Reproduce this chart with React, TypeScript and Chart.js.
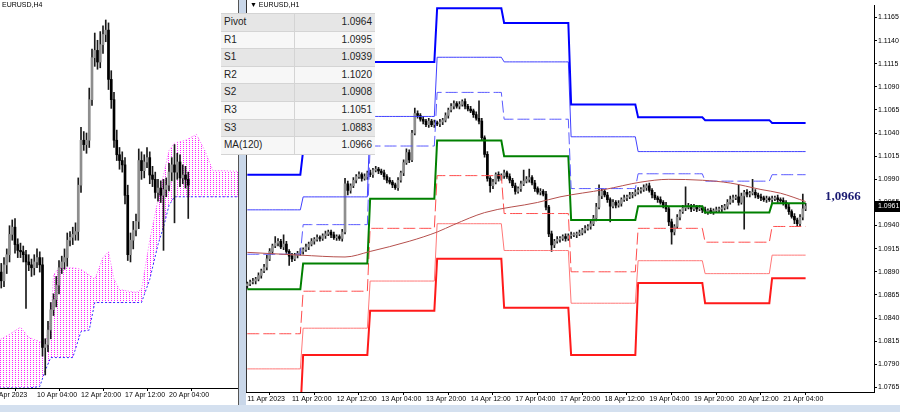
import React, { useEffect, useRef } from "react";
import { Chart, registerables } from "chart.js";
Chart.register(...registerables);

// ---------- H1 (right panel) ----------
const h1TickIdx = [0, 16, 32, 48, 64, 80, 96, 112, 128, 144, 160, 176, 192];
const h1TickLabels = ["11 Apr 2023", "11 Apr 20:00", "12 Apr 12:00", "13 Apr 04:00", "13 Apr 20:00", "14 Apr 12:00", "17 Apr 04:00", "17 Apr 20:00", "18 Apr 12:00", "19 Apr 04:00", "19 Apr 20:00", "20 Apr 12:00", "21 Apr 04:00"];
const priceTicks = [1.1165, 1.114, 1.1115, 1.109, 1.1065, 1.104, 1.1015, 1.099, 1.0965, 1.094, 1.0915, 1.089, 1.0865, 1.084, 1.0815, 1.079, 1.0765];

// prices in 1/10000 units
const h1FirstOpen = 10875;
const h1Close = [
  10877, 10879, 10880, 10882, 10886, 10891, 10895, 10904, 10912, 10918,
  10921, 10923, 10917, 10920, 10912, 10907, 10904, 10908, 10910, 10912,
  10914, 10917, 10920, 10923, 10925, 10927, 10926, 10929, 10931, 10933,
  10930, 10927, 10928, 10926, 10933, 10985, 10978, 10983, 10989, 10993,
  10995, 10991, 10993, 10997, 10995, 11000, 11001, 10999, 10997, 10993,
  10989, 10987, 10984, 10981, 10989, 10997, 11008, 11019, 11011, 11040,
  11061, 11059, 11055, 11053, 11049, 11053, 11049, 11051, 11050, 11052,
  11054, 11059, 11065, 11069, 11072, 11069, 11071, 11074, 11069, 11066,
  11064, 11060, 11056, 11053, 11035, 11017, 10991, 10983, 10987, 10995,
  10991, 10994, 10997, 10993, 10989, 10983, 10977, 10980, 10985, 10988,
  10990, 10992, 10986, 10980, 10976, 10977, 10974, 10960, 10931, 10919,
  10923, 10925, 10926, 10928, 10926, 10929, 10930, 10930, 10931, 10932,
  10935, 10937, 10939, 10942, 10948, 10960, 10972, 10977, 10973, 10968,
  10961, 10965, 10962, 10964, 10968, 10970, 10971, 10973, 10974, 10976,
  10978, 10979, 10981, 10983, 10978, 10973, 10970, 10968, 10965, 10962,
  10958, 10944, 10933, 10939, 10949, 10955, 10959, 10960, 10961, 10958,
  10960, 10958, 10959, 10957, 10955, 10956, 10955, 10956, 10957, 10958,
  10959, 10961, 10965, 10968, 10970, 10971, 10965, 10972, 10976, 10974,
  10975, 10976, 10973, 10971, 10970, 10968, 10969, 10968, 10969, 10970,
  10968, 10967, 10965, 10960, 10955, 10950, 10946, 10942, 10949, 10958, 10961,
];
const h1UpWick = [
  2, 2, 3, 2, 3, 2, 3, 4, 3, 2,
  7, 3, 2, 10, 3, 2, 3, 2, 2, 3,
  2, 3, 2, 3, 2, 3, 2, 2, 3, 2,
  2, 3, 2, 2, 3, 6, 3, 2, 3, 2,
  3, 2, 3, 2, 3, 2, 3, 2, 2, 3,
  2, 3, 2, 2, 3, 2, 3, 4, 3, 3,
  6, 3, 2, 3, 2, 3, 2, 3, 2, 3,
  2, 3, 2, 3, 3, 2, 3, 2, 3, 2,
  3, 2, 3, 19, 3, 2, 3, 2, 3, 2,
  3, 2, 3, 2, 3, 2, 3, 2, 3, 12,
  3, 9, 2, 3, 2, 3, 2, 3, 2, 3,
  2, 3, 2, 2, 3, 2, 3, 2, 2, 3,
  2, 3, 2, 3, 3, 4, 12, 3, 2, 3,
  2, 3, 2, 3, 2, 3, 2, 3, 2, 3,
  3, 2, 3, 2, 3, 2, 3, 2, 3, 2,
  3, 2, 3, 2, 3, 2, 3, 22, 3, 2,
  3, 2, 3, 2, 3, 2, 3, 2, 3, 2,
  3, 2, 3, 4, 3, 2, 13, 3, 2, 3,
  2, 14, 3, 2, 3, 2, 3, 2, 3, 2,
  3, 2, 3, 2, 3, 2, 3, 2, 3, 16, 3,
];
const h1DnWick = [
  3, 2, 2, 3, 2, 3, 2, 3, 2, 3,
  2, 3, 2, 3, 2, 10, 3, 2, 3, 2,
  3, 2, 3, 2, 3, 2, 3, 2, 3, 2,
  3, 2, 3, 2, 3, 2, 5, 3, 2, 3,
  2, 3, 2, 3, 2, 3, 2, 3, 2, 3,
  3, 2, 3, 2, 3, 2, 3, 2, 3, 2,
  2, 3, 2, 3, 2, 3, 2, 3, 2, 3,
  3, 2, 3, 2, 3, 2, 3, 2, 3, 2,
  2, 3, 2, 3, 2, 3, 3, 7, 3, 2,
  3, 2, 3, 2, 3, 2, 3, 2, 3, 2,
  2, 3, 2, 3, 2, 3, 2, 3, 3, 7,
  3, 2, 3, 2, 3, 2, 3, 2, 3, 2,
  2, 3, 2, 3, 2, 3, 2, 3, 2, 3,
  17, 2, 3, 2, 3, 2, 3, 2, 3, 2,
  2, 3, 2, 3, 2, 3, 2, 3, 2, 3,
  3, 4, 13, 3, 2, 3, 2, 3, 2, 3,
  2, 3, 2, 3, 2, 3, 2, 3, 2, 3,
  3, 2, 3, 2, 3, 2, 3, 2, 36, 3,
  3, 2, 3, 2, 3, 2, 3, 2, 3, 2,
  3, 2, 3, 2, 3, 2, 4, 3, 2, 3, 2,
];

// daily pivot levels (11,12,13,14,17,18,19,20,21 Apr)
const dayStartBar = [0, 20, 44, 68, 92, 116, 140, 164, 188];
const pivotP = [10871, 10899, 10969, 11032, 11015, 10946, 10961, 10954, 10964];
const pivotR1 = [10909, 10941, 11026, 11084, 11055, 10980, 10996, 10988, 10995];
const pivotR2 = [10957, 10971, 11058, 11122, 11117, 11036, 11020, 11020, 11020];
const pivotR3 = [10995, 11021, 11117, 11175, 11159, 11071, 11057, 11054, 11051];
const pivotS1 = [10823, 10869, 10937, 10994, 10953, 10890, 10937, 10922, 10939];
const pivotS2 = [10785, 10829, 10880, 10942, 10913, 10856, 10902, 10888, 10908];
const pivotS3 = [10737, 10800, 10848, 10904, 10851, 10800, 10878, 10856, 10883];

const maIdx = [0, 19, 35, 44, 58, 68, 74, 85, 104, 112, 128, 141, 151, 163, 173, 184, 191, 200];
const maVal = [10911, 10908, 10906, 10912, 10923, 10933, 10941, 10954, 10965, 10971, 10979, 10987, 10990, 10989, 10986, 10979, 10975, 10966];

const tableNames = ["Pivot", "R1", "S1", "R2", "S2", "R3", "S3", "MA(120)"];
const tableValues = ["1.0964", "1.0995", "1.0939", "1.1020", "1.0908", "1.1051", "1.0883", "1.0966"];
const maNote = "1,0966";

// ---------- H4 (left panel) ----------
const h4TickIdx = [0, 16, 32, 48, 64];
const h4TickLabels = ["5 Apr 2023", "10 Apr 04:00", "12 Apr 20:00", "17 Apr 12:00", "20 Apr 04:00"];
const h4FirstOpen = 10895;
const h4Close = [
  10900, 10903, 10902, 10896, 10907, 10914, 10928, 10933, 10921, 10917,
  10916, 10914, 10909, 10907, 10905, 10909, 10912, 10907, 10850, 10852,
  10862, 10876, 10883, 10893, 10905, 10909, 10912, 10924, 10926, 10928,
  10930, 10962, 10993, 10990, 10993, 11021, 11050, 11055, 11047, 11059,
  11066, 11069, 11035, 11021, 10993, 10983, 10979, 10976, 10955, 10914,
  10924, 10931, 10937, 10979, 10972, 10978, 10981, 10969, 10966, 10957,
  10960, 10955, 10959, 10962, 10971, 10976, 10971, 10978, 10967, 10969,
  10966, 10962,
];
const h4UpWick = [
  4, 5, 3, 6, 5, 4, 6, 5, 6, 4,
  5, 4, 3, 5, 4, 5, 6, 4, 5, 4,
  6, 5, 4, 6, 5, 4, 6, 5, 4, 5,
  6, 5, 9, 6, 5, 8, 6, 12, 7, 9,
  6, 7, 5, 6, 5, 7, 5, 6, 5, 7,
  5, 6, 5, 8, 6, 5, 7, 4, 6, 5,
  6, 5, 7, 5, 6, 5, 14, 6, 5, 7,
  6, 5,
];
const h4DnWick = [
  5, 4, 6, 5, 4, 6, 5, 4, 6, 5,
  4, 5, 32, 4, 6, 5, 4, 5, 6, 19,
  5, 6, 4, 5, 6, 4, 5, 6, 4, 5,
  4, 6, 5, 4, 6, 5, 4, 6, 5, 4,
  6, 5, 7, 6, 5, 4, 6, 5, 6, 4,
  5, 6, 4, 5, 6, 5, 4, 6, 5, 4,
  6, 5, 38, 5, 4, 6, 35, 5, 6, 4,
  6, 23,
];
const cloudIdx = [-8, 2, 6, 10, 13, 17, 19, 21, 22, 24, 29, 32, 35, 37, 40, 42, 44, 46, 52, 54, 57, 60, 62, 64, 66, 70, 74, 77, 80, 84, 97];
const cloudTop = [10855, 10855, 10859, 10864, 10857, 10854, 10852, 10869, 10900, 10905, 10905, 10904, 10900, 10897, 10912, 10916, 10897, 10890, 10888, 10890, 10924, 10952, 10969, 10986, 10991, 10993, 10997, 10986, 10972, 10972, 10971];
const cloudBot = [10822, 10822, 10822, 10822, 10822, 10823, 10834, 10843, 10843, 10843, 10843, 10861, 10862, 10881, 10881, 10881, 10881, 10881, 10881, 10881, 10897, 10921, 10933, 10948, 10954, 10954, 10954, 10954, 10954, 10954, 10954];

const FONT = "'Liberation Sans', Arial, sans-serif";

function candleSets(firstOpen: number, closes: number[], up: number[], dn: number[]) {
  const opens = closes.map((c, i) => (i === 0 ? firstOpen : closes[i - 1]));
  const body = closes.map((c, i) => ({ x: i, y: [opens[i] / 1e4, c / 1e4] }));
  const wick = closes.map((c, i) => ({
    x: i,
    y: [(Math.min(opens[i], c) - dn[i]) / 1e4, (Math.max(opens[i], c) + up[i]) / 1e4],
  }));
  const colors = closes.map((c, i) => (c >= opens[i] ? "#8e8e8e" : "#000000"));
  return [
    { type: "bar", data: wick, backgroundColor: "#1a1a1a", barThickness: 1, grouped: false, order: 20 },
    { type: "bar", data: body, backgroundColor: colors, barThickness: 2, grouped: false, minBarLength: 1, order: 19 },
  ];
}

function dayOf(i: number) {
  let d = 0;
  for (let k = 0; k < dayStartBar.length; k++) if (dayStartBar[k] <= i) d = k;
  return d;
}

function levelLine(levels: number[], color: string, width: number, dash: number[]) {
  return {
    type: "line",
    data: h1Close.map((_, i) => ({ x: i, y: levels[dayOf(i)] / 1e4 })),
    borderColor: color,
    borderWidth: width,
    borderDash: dash,
    pointRadius: 0,
    fill: false,
    tension: 0,
    order: 2,
  };
}

function axisX(idx: number[], labels: string[], min: number, max: number, h: number) {
  return {
    type: "linear",
    min,
    max,
    offset: false,
    afterBuildTicks: (ax: any) => {
      ax.ticks = idx.map((v) => ({ value: v }));
    },
    afterFit: (ax: any) => {
      ax.height = h;
    },
    grid: { drawOnChartArea: false, drawTicks: true, tickLength: 3, color: "#000" },
    border: { display: true, color: "#000" },
    ticks: {
      autoSkip: false,
      maxRotation: 0,
      minRotation: 0,
      align: "start",
      padding: 0,
      color: "#000",
      font: { family: FONT, size: 7 },
      callback: (v: any) => {
        const k = idx.indexOf(Number(v));
        return k >= 0 ? labels[k] : "";
      },
    },
  };
}

export default function App() {
  const leftRef = useRef<HTMLCanvasElement>(null);
  const rightRef = useRef<HTMLCanvasElement>(null);

  useEffect(() => {
    document.body.style.margin = "0";
    const lc = leftRef.current!;
    const rc = rightRef.current!;

    // dotted cloud pattern
    const tile = document.createElement("canvas");
    tile.width = 3;
    tile.height = 2;
    const tg = tile.getContext("2d")!;
    tg.fillStyle = "#ff22ff";
    tg.fillRect(0, 0, 1, 1);
    const pattern = lc.getContext("2d")!.createPattern(tile, "repeat");

    const left = new Chart(lc, {
      type: "bar",
      data: {
        datasets: [
          ...candleSets(h4FirstOpen, h4Close, h4UpWick, h4DnWick),
          {
            type: "line",
            data: cloudIdx.map((j, k) => ({ x: j, y: cloudTop[k] / 1e4 })),
            borderColor: "rgba(255,40,255,0.7)",
            borderWidth: 1,
            borderDash: [1, 2],
            pointRadius: 0,
            fill: false,
            tension: 0,
            order: 30,
          },
          {
            type: "line",
            data: cloudIdx.map((j, k) => ({ x: j, y: cloudBot[k] / 1e4 })),
            borderColor: "#3030ff",
            borderWidth: 1,
            borderDash: [2, 2],
            pointRadius: 0,
            fill: "-1",
            backgroundColor: pattern,
            tension: 0,
            order: 31,
          },
        ] as any,
      },
      options: {
        responsive: false,
        animation: false,
        devicePixelRatio: 1,
        layout: { padding: 0 },
        plugins: { legend: { display: false }, tooltip: { enabled: false } },
        scales: {
          x: axisX(h4TickIdx, h4TickLabels, -8.364, 89.09, 17) as any,
          y: { type: "linear", display: false, min: 1.0822, max: 1.10898 },
        },
      },
    });

    const lastPrice = h1Close[h1Close.length - 1] / 1e4;
    const priceBox = {
      id: "priceBox",
      afterDraw(chart: any) {
        const y = chart.scales.y.getPixelForValue(lastPrice);
        const ctx = chart.ctx;
        const x0 = chart.chartArea.right + 1;
        ctx.save();
        ctx.fillStyle = "#000";
        ctx.fillRect(x0, Math.round(y) - 5, 27, 11);
        ctx.fillStyle = "#fff";
        ctx.font = "7px " + FONT;
        ctx.textBaseline = "middle";
        ctx.textAlign = "left";
        ctx.fillText(lastPrice.toFixed(4), x0 + 3, Math.round(y) + 0.5);
        ctx.restore();
      },
    };

    const right = new Chart(rc, {
      type: "bar",
      data: {
        datasets: [
          levelLine(pivotR3, "#0000ff", 2, []),
          levelLine(pivotR2, "#4040ff", 1, []),
          levelLine(pivotR1, "#5a5aff", 1, [12, 4]),
          levelLine(pivotP, "#008000", 2, []),
          levelLine(pivotS1, "#ff4d4d", 1, [12, 4]),
          levelLine(pivotS2, "#ff7878", 1, []),
          levelLine(pivotS3, "#ff1a1a", 2, []),
          {
            type: "line",
            data: maIdx.map((i, k) => ({ x: i, y: maVal[k] / 1e4 })),
            borderColor: "#b5504d",
            borderWidth: 1,
            pointRadius: 0,
            fill: false,
            cubicInterpolationMode: "monotone",
            order: 1,
          },
          ...candleSets(h1FirstOpen, h1Close, h1UpWick, h1DnWick),
        ] as any,
      },
      options: {
        responsive: false,
        animation: false,
        devicePixelRatio: 1,
        layout: { padding: 0 },
        plugins: { legend: { display: false }, tooltip: { enabled: false } },
        scales: {
          x: axisX(h1TickIdx, h1TickLabels, -0.47, 224.5, 13) as any,
          y: {
            type: "linear",
            position: "right",
            min: 1.076,
            max: 1.11783,
            afterBuildTicks: (ax: any) => {
              ax.ticks = priceTicks.map((v) => ({ value: v }));
            },
            afterFit: (ax: any) => {
              ax.width = 26;
            },
            grid: { drawOnChartArea: false, drawTicks: true, tickLength: 3, color: "#000" },
            border: { display: true, color: "#000" },
            ticks: {
              padding: 1,
              color: "#000",
              font: { family: FONT, size: 7 },
              callback: (v: any) => Number(v).toFixed(4),
            },
          },
        },
      },
      plugins: [priceBox],
    });

    return () => {
      left.destroy();
      right.destroy();
    };
  }, []);

  return (
    <div
      style={{
        position: "fixed",
        left: 0,
        top: 0,
        width: 900,
        height: 412,
        background: "#fff",
        overflow: "hidden",
        fontFamily: FONT,
      }}
    >
      <div style={{ position: "absolute", left: 0, top: 0, width: 238, height: 405, overflow: "hidden" }}>
        <canvas ref={leftRef} width={268} height={405} style={{ position: "absolute", left: -30, top: 0 }} />
        <div style={{ position: "absolute", left: 2, top: 0, fontSize: 7, lineHeight: "9px", color: "#000" }}>EURUSD,H4</div>
      </div>
      <div style={{ position: "absolute", left: 238, top: 0, width: 1, height: 405, background: "#555" }} />
      <div style={{ position: "absolute", left: 239, top: 0, width: 7, height: 405, background: "#c9d7e9" }} />
      <div style={{ position: "absolute", left: 246, top: 0, width: 1, height: 393, background: "#333" }} />
      <canvas ref={rightRef} width={654} height={405} style={{ position: "absolute", left: 246, top: 0 }} />
      <div style={{ position: "absolute", left: 250, top: 0, fontSize: 7, lineHeight: "9px", color: "#000" }}>▼ EURUSD,H1</div>
      <div style={{ position: "absolute", left: 0, top: 405, width: 900, height: 7, background: "#d4e0ef" }} />

      <div
        style={{
          position: "absolute",
          left: 221,
          top: 13,
          width: 154,
          borderTop: "1px solid #d4d4d4",
          fontSize: 10,
          color: "#1e1e1e",
        }}
      >
        {tableNames.map((n, k) => (
          <div
            key={n}
            style={{
              display: "flex",
              height: 17.6,
              boxSizing: "border-box",
              borderBottom: "1px solid #d4d4d4",
              background: k % 2 === 0 ? "#e6e6e6" : "#f7f7f7",
              lineHeight: "16.6px",
            }}
          >
            <div style={{ width: 74, paddingLeft: 3, boxSizing: "border-box", borderRight: "1px solid #d4d4d4" }}>{n}</div>
            <div style={{ flex: 1, textAlign: "right", paddingRight: 3 }}>{tableValues[k]}</div>
          </div>
        ))}
      </div>

      <div
        style={{
          position: "absolute",
          left: 825,
          top: 188,
          fontFamily: "'Liberation Serif', 'Times New Roman', serif",
          fontWeight: "bold",
          fontSize: 13,
          lineHeight: "15px",
          color: "#1b1b72",
        }}
      >
        {maNote}
      </div>
    </div>
  );
}
